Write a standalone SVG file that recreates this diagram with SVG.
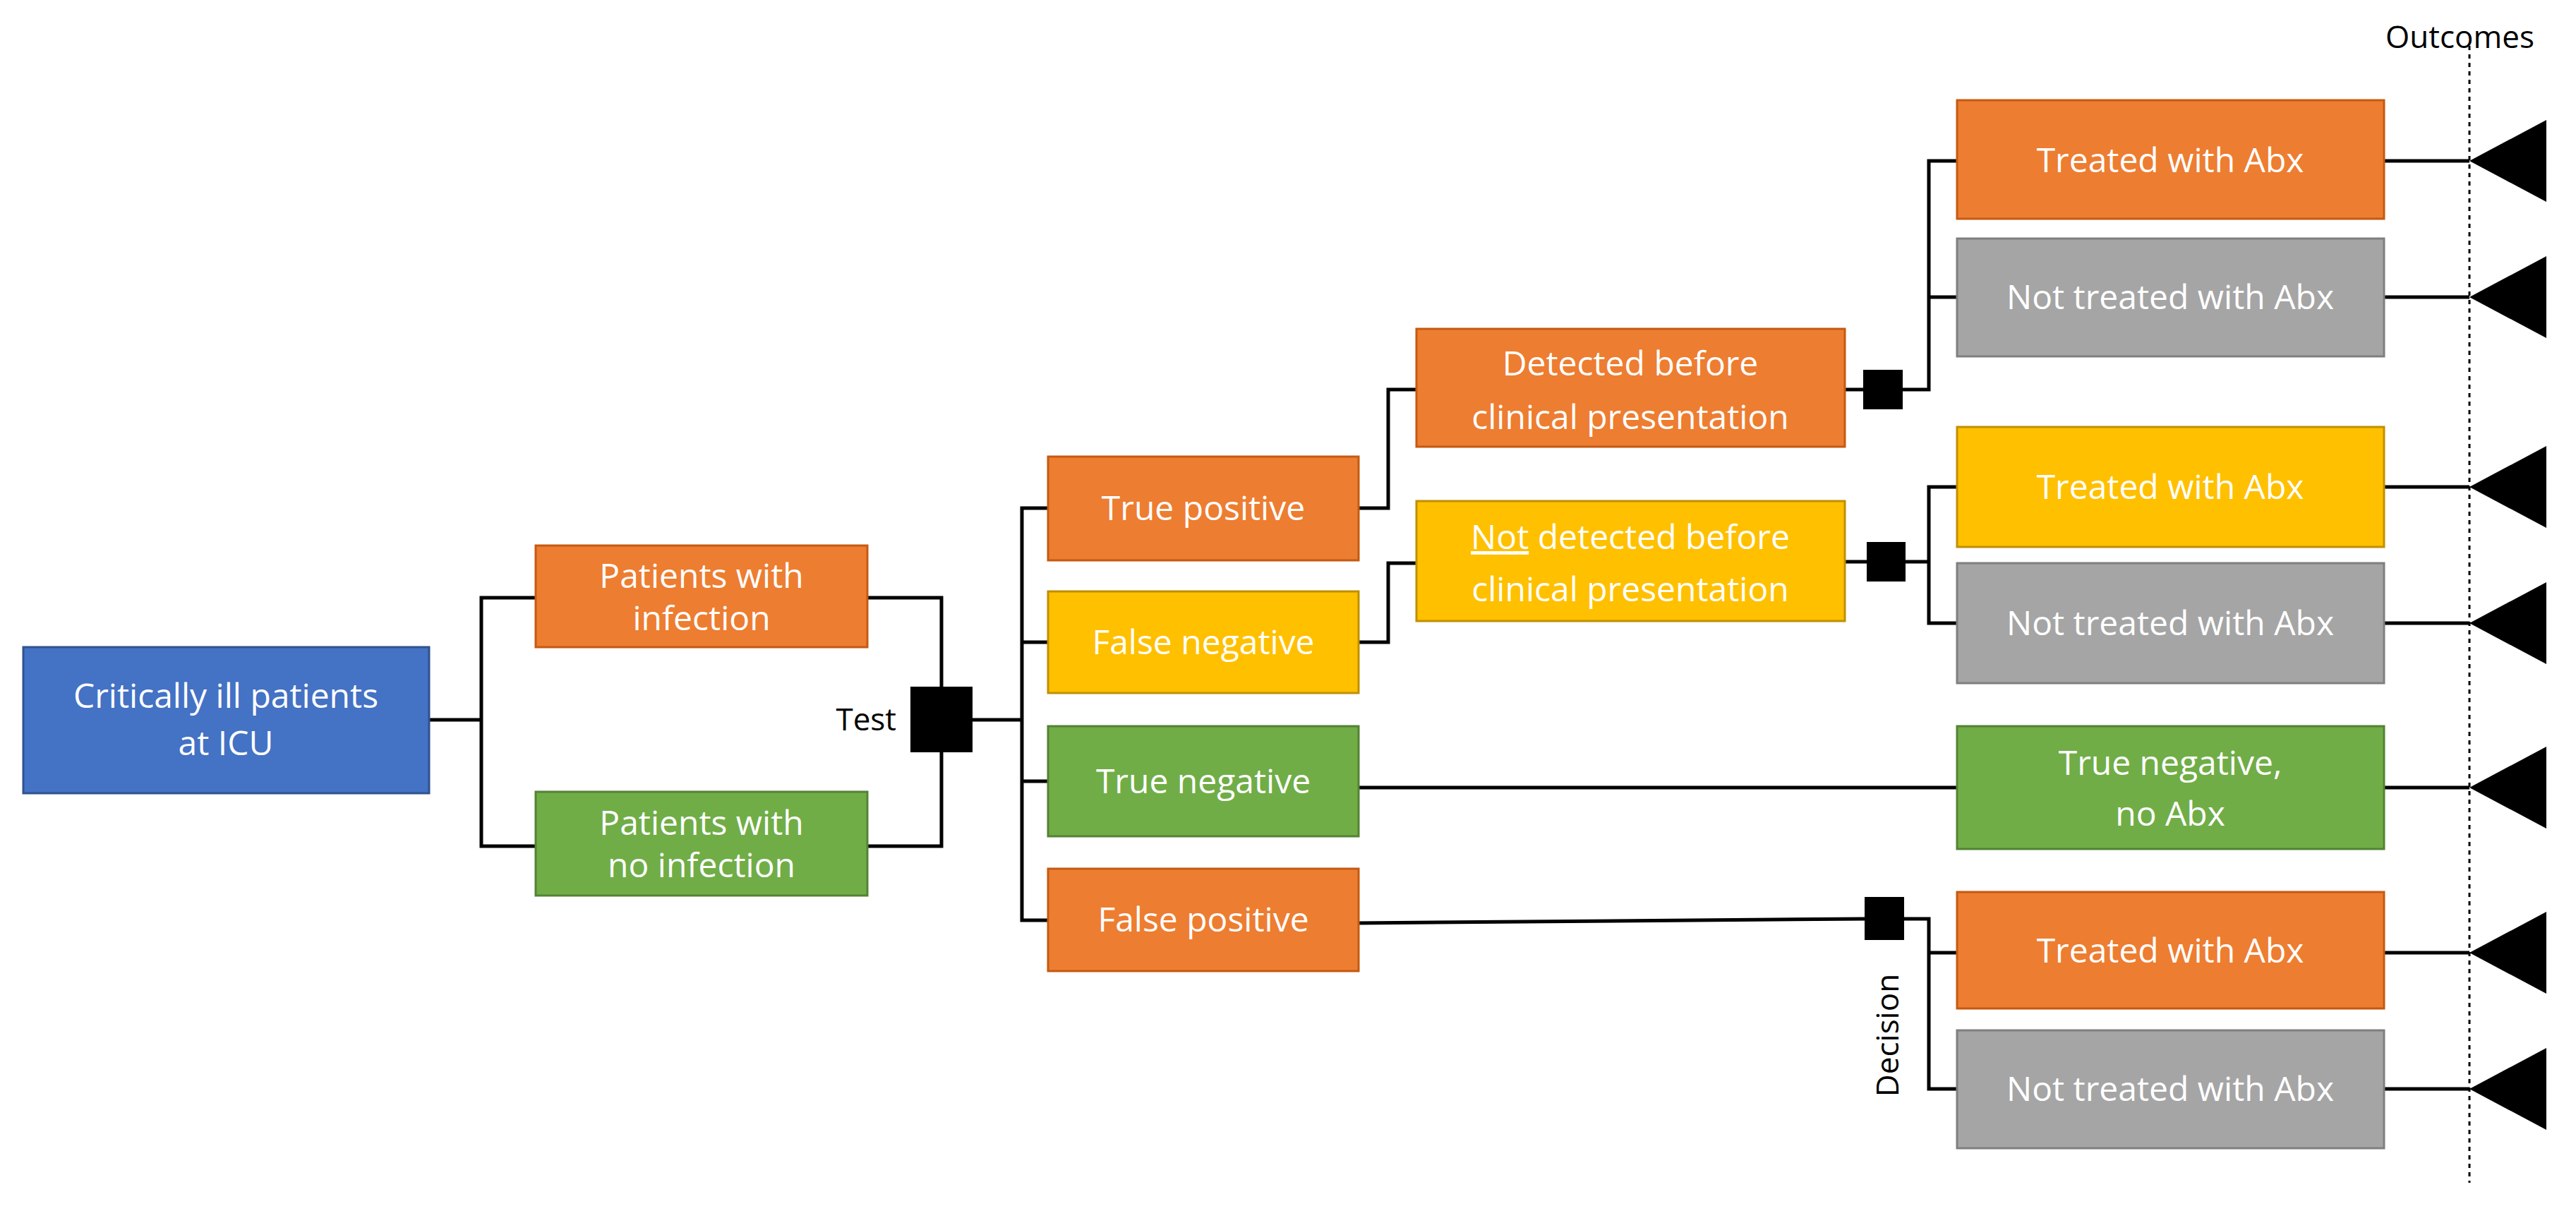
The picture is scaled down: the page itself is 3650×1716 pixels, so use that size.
<svg xmlns="http://www.w3.org/2000/svg" width="3650" height="1716" viewBox="0 0 3650 1716">
<style>
.b{stroke-width:3}
.o{fill:#ED7D31;stroke:#C55A11}
.g{fill:#70AD47;stroke:#548235}
.y{fill:#FFC000;stroke:#BF9000}
.gr{fill:#A5A5A5;stroke:#7F7F7F}
.bl{fill:#4472C4;stroke:#2F528F}
.t{font-family:"Open Sans","Noto Sans",sans-serif;font-size:48px;fill:#fff;text-anchor:middle}
.k{font-family:"Open Sans","Noto Sans",sans-serif;font-size:44px;fill:#000}
.c{fill:none;stroke:#000;stroke-width:5}
</style>
<rect width="3650" height="1716" fill="#fff"/>
<g id="connectors">
<path class="c" d="M608 1020H682M759 847H682V1199H759"/>
<path class="c" d="M1229 847H1334V1199H1229"/>
<path class="c" d="M1378 1020H1448M1485 720H1448V1304H1485M1448 910H1485M1448 1107H1485"/>
<path class="c" d="M1925 720H1967V552H2007M1925 910H1967V798H2007"/>
<path class="c" d="M2614 552H2640M2696 552H2733V228H2773M2733 421H2773"/>
<path class="c" d="M2614 796H2645M2700 796H2733V690H2773M2733 690V883H2773"/>
<path class="c" d="M1925 1116H2773"/>
<path class="c" d="M1925 1308L2642 1302M2698 1302H2733V1543H2773M2733 1350H2773"/>
<path class="c" d="M3378 228H3499M3378 421H3499M3378 690H3499M3378 883H3499M3378 1116H3499M3378 1350H3499M3378 1543H3499"/>
<line x1="3499" y1="65" x2="3499" y2="1676" stroke="#000" stroke-width="3" stroke-dasharray="6,6"/>
</g>
<g id="outcomes">
<text class="k" x="3380" y="68">Outcomes</text>
<path d="M3499 228L3608 170V286ZM3499 421L3608 363V479ZM3499 690L3608 632V748ZM3499 883L3608 825V941ZM3499 1116L3608 1058V1174ZM3499 1350L3608 1292V1408ZM3499 1543L3608 1485V1601Z"/>
</g>
<g id="root"><rect class="bl b" x="33" y="917" width="575" height="207"/><text class="t" x="320" y="1003">Critically ill patients</text><text class="t" x="320" y="1070">at ICU</text></g>
<g id="infection"><rect class="o b" x="759" y="773" width="470" height="144"/><text class="t" x="994" y="833">Patients with</text><text class="t" x="994" y="893">infection</text></g>
<g id="noinfection"><rect class="g b" x="759" y="1122" width="470" height="147"/><text class="t" x="994" y="1183">Patients with</text><text class="t" x="994" y="1243">no infection</text></g>
<g id="test"><rect x="1290" y="973" width="88" height="93"/><text class="k" x="1270" y="1035" text-anchor="end">Test</text></g>
<g id="tp"><rect class="o b" x="1485" y="647" width="440" height="147"/><text class="t" x="1705" y="737">True positive</text></g>
<g id="fn"><rect class="y b" x="1485" y="838" width="440" height="144"/><text class="t" x="1705" y="927">False negative</text></g>
<g id="tn"><rect class="g b" x="1485" y="1029" width="440" height="156"/><text class="t" x="1705" y="1124">True negative</text></g>
<g id="fp"><rect class="o b" x="1485" y="1231" width="440" height="145"/><text class="t" x="1705" y="1320">False positive</text></g>
<g id="detected"><rect class="o b" x="2007" y="466" width="607" height="167"/><text class="t" x="2310" y="532">Detected  before</text><text class="t" x="2310" y="608">clinical presentation</text></g>
<g id="notdetected"><rect class="y b" x="2007" y="710" width="607" height="170"/><text class="t" x="2310" y="778"><tspan text-decoration="underline">Not</tspan> detected  before</text><text class="t" x="2310" y="852">clinical presentation</text></g>
<g id="d1"><rect x="2640" y="524" width="56" height="56"/></g>
<g id="d2"><rect x="2645" y="768" width="55" height="56"/></g>
<g id="d3"><rect x="2642" y="1271" width="56" height="61"/><text class="k" transform="translate(2690 1467) rotate(-90)" text-anchor="middle">Decision</text></g>
<g id="o1"><rect class="o b" x="2773" y="142" width="605" height="168"/><text class="t" x="3075" y="244">Treated with Abx</text></g>
<g id="o2"><rect class="gr b" x="2773" y="338" width="605" height="167"/><text class="t" x="3075" y="438">Not treated with Abx</text></g>
<g id="o3"><rect class="y b" x="2773" y="605" width="605" height="170"/><text class="t" x="3075" y="707">Treated with Abx</text></g>
<g id="o4"><rect class="gr b" x="2773" y="798" width="605" height="170"/><text class="t" x="3075" y="900">Not treated with Abx</text></g>
<g id="o5"><rect class="g b" x="2773" y="1029" width="605" height="174"/><text class="t" x="3075" y="1098">True negative,</text><text class="t" x="3075" y="1170">no Abx</text></g>
<g id="o6"><rect class="o b" x="2773" y="1264" width="605" height="165"/><text class="t" x="3075" y="1364">Treated with Abx</text></g>
<g id="o7"><rect class="gr b" x="2773" y="1460" width="605" height="167"/><text class="t" x="3075" y="1560">Not treated with Abx</text></g>
</svg>
